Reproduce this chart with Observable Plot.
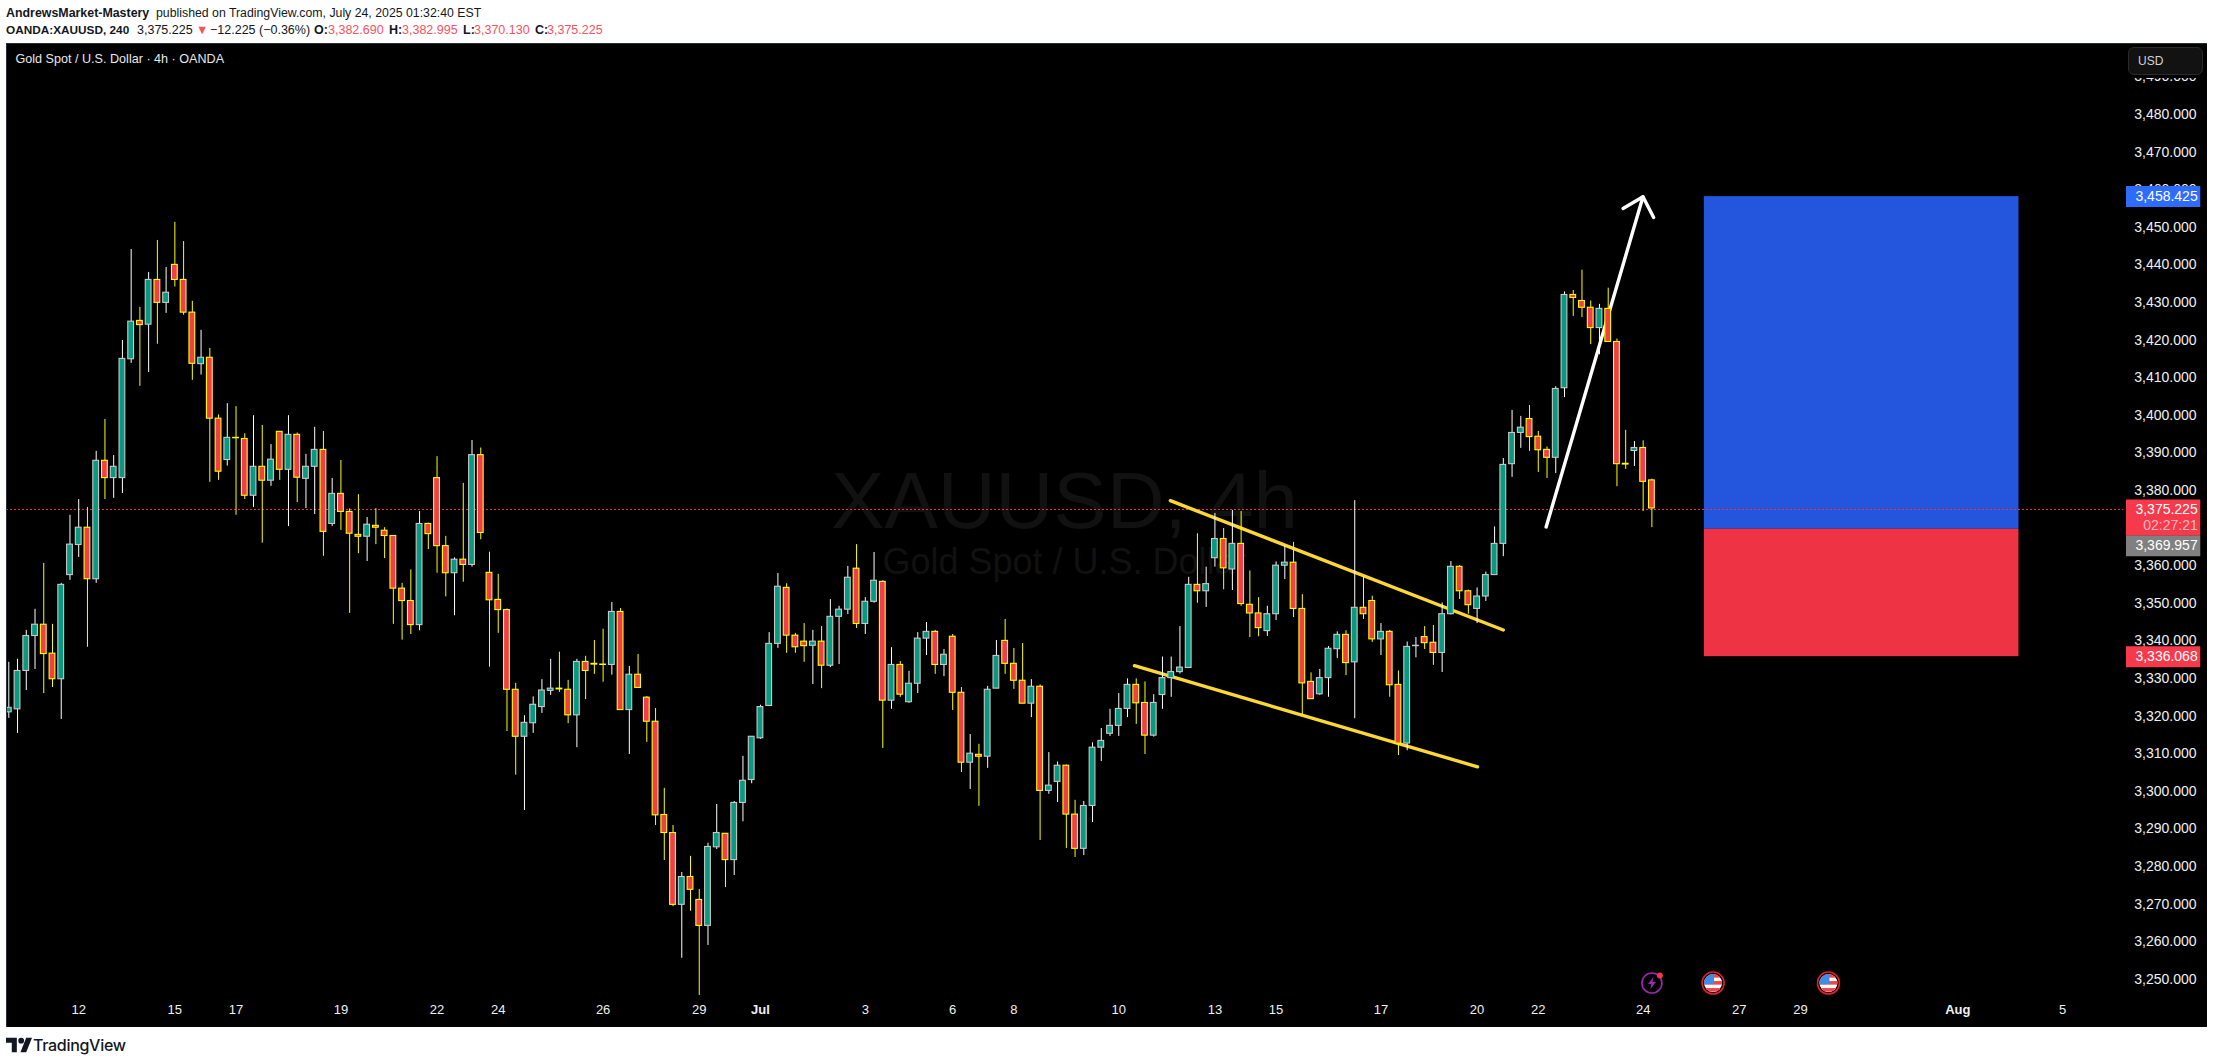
<!DOCTYPE html>
<html><head><meta charset="utf-8">
<script src="https://cdn.jsdelivr.net/npm/d3@7"></script>
<script src="https://cdn.jsdelivr.net/npm/@observablehq/plot@0.6"></script>
<style>
html,body{margin:0;padding:0;background:#fff;width:2213px;height:1064px;overflow:hidden;font-family:"Liberation Sans",sans-serif}
#head{position:relative;height:43px;color:#131722;font-size:12.5px}
#head span{position:absolute;white-space:nowrap;line-height:16px}
#chart{position:relative;margin-left:6px;width:2201px;height:984px}
#usd{position:absolute;left:2122px;top:4px;width:73px;height:26px;background:#121212;border:1px solid #2a2a2a;border-radius:6px;color:#d1d4dc;font-size:12px;line-height:26px;text-indent:9px;box-shadow:0 2px 0 1px #000}
#foot{position:relative;height:37px}
#foot svg{position:absolute;left:6px;top:10px}
#foot span{position:absolute;left:33px;top:8px;font-size:16px;color:#131722;letter-spacing:-.3px;font-family:"Inter","Liberation Sans",sans-serif;font-weight:500}
</style></head><body>
<div id="head">
<span style="left:6px;top:5px;font-weight:700;font-size:12.4px">AndrewsMarket-Mastery</span>
<span style="left:156px;top:5px;font-size:12.3px">published on TradingView.com, July 24, 2025 01:32:40 EST</span>
<span style="left:6px;top:22px;font-weight:700;font-size:11.8px">OANDA:XAUUSD, 240</span>
<span style="left:137px;top:22px">3,375.225</span>
<span style="left:196px;top:22px;color:#f7525f">▼</span>
<span style="left:210px;top:22px">−12.225 (−0.36%)</span>
<span style="left:314px;top:22px;font-weight:700">O:</span><span style="left:328px;top:22px;color:#f7525f">3,382.690</span>
<span style="left:389px;top:22px;font-weight:700">H:</span><span style="left:402px;top:22px;color:#f7525f">3,382.995</span>
<span style="left:463px;top:22px;font-weight:700">L:</span><span style="left:474px;top:22px;color:#f7525f">3,370.130</span>
<span style="left:535px;top:22px;font-weight:700">C:</span><span style="left:547px;top:22px;color:#f7525f">3,375.225</span>
</div>
<div id="chart"><div id="usd">USD</div></div>
<div id="foot">
<svg width="26" height="16" viewBox="0 0 36 20" fill="#131722"><path d="M15 20H8V7H0V0h15v20z"/><circle cx="21" cy="4" r="4"/><path d="M28 0h8l-8 20h-8z"/></svg>
<span>TradingView</span></div>
<script>
const rising = "UUUUDDUUUD UDUUUDUDUD DDUDDUDDUD UDUDUUDUDD DUDDDDDUDD DUDUDDDDDU UUUDDUDDDU DUDDDDDUDD UUDUUUUUUD DDUDUUUDUU DUDUUUDUDD UDUUDDDUDU UDDUUUUUUD DUUUUUDUUD UDDDUUUDDD UUUDUDDUDD UUDDUUDDUU UUUUDDDUUD DDUDDDUDD".replace(/ /g,"");
const highs = [
3334.3,3335.1,3342.8,3348.4,3360.6,3344.4,3355.3,3373.4,3377.6,3375.5,
3390.4,3398.9,3389.3,3419.9,3444.1,3428.7,3438.0,3446.5,3439.3,3451.3,
3446.2,3430.3,3422.6,3417.8,3400.1,3403.1,3402.3,3395.1,3399.9,3397.3,
3392.2,3395.6,3399.9,3395.3,3389.6,3396.8,3395.7,3383.2,3388.0,3375.1,
3378.9,3372.8,3375.2,3370.1,3367.9,3355.3,3358.9,3374.4,3371.3,3389.0,
3367.8,3362.1,3381.9,3393.3,3391.3,3363.6,3357.7,3348.5,3328.7,3320.1,
3325.1,3329.7,3335.1,3337.0,3329.5,3335.1,3335.9,3340.1,3343.1,3350.2,
3348.6,3333.2,3336.4,3325.2,3322.0,3300.8,3290.9,3278.4,3282.7,3273.9,
3286.2,3296.5,3288.7,3297.3,3309.3,3314.5,3322.9,3342.2,3357.9,3355.2,
3342.0,3344.6,3342.8,3343.8,3351.0,3349.2,3359.8,3365.6,3351.5,3363.5,
3356.0,3338.2,3334.5,3331.9,3342.2,3344.9,3342.8,3337.7,3341.7,3327.6,
3315.1,3312.5,3327.9,3340.1,3345.7,3338.0,3339.3,3329.7,3328.3,3310.3,
3307.8,3307.0,3297.6,3297.3,3312.9,3316.7,3321.8,3326.0,3329.9,3329.9,
3329.1,3325.7,3335.7,3335.7,3343.8,3356.9,3368.5,3359.6,3373.9,3369.9,
3374.7,3374.4,3358.6,3351.5,3349.2,3361.0,3365.3,3366.2,3352.3,3331.5,
3332.4,3338.5,3342.4,3342.7,3377.3,3357.1,3351.9,3344.6,3342.8,3332.0,
3339.7,3340.9,3343.8,3344.1,3350.1,3361.1,3360.0,3353.5,3354.1,3358.3,
3370.3,3388.5,3401.3,3399.7,3402.6,3395.7,3391.6,3407.6,3432.8,3433.2,
3438.6,3430.4,3429.5,3433.8,3420.3,3396.0,3393.0,3393.2,3382.995];
const bodyTops = [
3322.2,3332.0,3341.3,3344.3,3344.3,3336.6,3354.9,3365.6,3370.1,3370.1,
3387.9,3387.9,3386.3,3415.0,3424.9,3425.1,3436.0,3436.0,3432.6,3440.0,
3436.0,3427.3,3415.3,3415.3,3399.1,3394.0,3394.0,3393.7,3386.3,3386.3,
3388.2,3395.6,3394.8,3394.8,3386.3,3390.8,3390.8,3379.1,3379.1,3374.3,
3368.2,3370.9,3370.6,3369.3,3367.9,3353.9,3350.6,3371.1,3371.1,3383.3,
3365.2,3361.6,3361.6,3389.4,3389.4,3358.1,3350.9,3348.2,3327.0,3318.2,
3323.0,3326.8,3327.3,3327.3,3327.0,3334.4,3334.4,3333.9,3333.7,3347.7,
3347.7,3331.0,3331.0,3324.9,3318.5,3293.7,3288.9,3277.2,3277.2,3271.1,
3285.2,3288.9,3288.7,3296.9,3302.8,3314.5,3322.4,3339.2,3354.4,3354.1,
3341.4,3339.8,3339.8,3339.8,3346.4,3348.3,3356.8,3359.2,3350.4,3356.0,
3355.7,3333.6,3333.6,3328.6,3340.6,3342.4,3342.4,3336.3,3341.1,3326.2,
3310.0,3309.7,3327.0,3336.0,3340.0,3333.9,3329.4,3327.8,3327.8,3301.5,
3306.8,3306.8,3293.8,3296.1,3311.6,3313.4,3317.4,3321.9,3328.3,3328.3,
3323.5,3323.5,3330.1,3331.7,3332.9,3354.9,3354.9,3355.1,3367.1,3367.1,
3365.8,3365.8,3349.6,3347.3,3347.1,3360.0,3360.8,3360.8,3348.5,3329.1,
3330.1,3337.9,3341.6,3341.6,3348.8,3348.8,3350.6,3342.4,3342.4,3328.3,
3338.4,3338.7,3341.0,3339.5,3347.1,3359.7,3359.7,3353.2,3351.8,3357.5,
3365.8,3386.8,3395.3,3396.7,3399.0,3394.3,3390.8,3407.0,3432.0,3432.0,
3430.4,3428.6,3428.3,3428.3,3419.5,3387.1,3391.3,3391.3,3382.69];
const bodyBottoms = [
3321.0,3321.8,3332.0,3341.3,3336.5,3329.8,3329.8,3357.5,3365.5,3356.4,
3356.4,3383.3,3383.3,3383.3,3414.9,3424.0,3424.1,3429.9,3429.9,3436.0,
3427.3,3413.7,3413.6,3399.1,3385.0,3388.1,3393.9,3378.6,3378.6,3382.6,
3382.6,3385.5,3385.5,3383.4,3383.1,3386.3,3369.0,3371.1,3374.3,3368.5,
3367.7,3367.7,3370.1,3367.9,3353.9,3350.6,3344.2,3344.2,3368.4,3365.2,
3358.0,3358.0,3360.2,3360.2,3368.7,3350.8,3348.2,3327.0,3314.5,3314.5,
3318.1,3322.4,3326.7,3327.1,3320.2,3320.2,3332.0,3333.7,3333.6,3333.6,
3321.6,3321.6,3327.5,3318.5,3293.6,3288.9,3269.8,3269.8,3273.8,3264.2,
3264.2,3285.1,3281.7,3281.7,3296.9,3303.0,3314.1,3322.7,3339.2,3341.4,
3338.3,3338.6,3338.7,3333.4,3333.4,3346.4,3348.3,3344.5,3344.5,3350.4,
3324.1,3324.1,3325.7,3323.7,3328.6,3340.6,3333.6,3333.6,3326.2,3307.6,
3307.6,3309.2,3309.2,3327.3,3333.9,3329.4,3323.3,3323.3,3300.1,3300.1,
3302.5,3293.8,3284.7,3284.7,3296.1,3311.6,3315.3,3317.4,3321.9,3323.4,
3314.8,3314.8,3325.6,3330.1,3331.7,3332.8,3353.2,3353.2,3362.0,3359.3,
3359.0,3349.8,3347.3,3343.4,3342.6,3347.1,3360.0,3348.5,3328.7,3324.5,
3325.8,3330.1,3337.8,3334.1,3334.3,3347.1,3340.4,3340.4,3328.2,3312.7,
3312.7,3338.6,3339.4,3336.8,3336.8,3347.1,3353.2,3349.5,3348.5,3351.8,
3357.5,3365.8,3387.0,3395.3,3394.2,3390.7,3388.7,3388.7,3407.2,3431.2,
3428.6,3423.2,3423.2,3419.5,3387.0,3386.9,3390.5,3382.3,3375.225];
const lows = [
3319.4,3315.4,3326.8,3332.4,3326.0,3327.6,3319.1,3356.1,3362.2,3338.3,
3355.3,3377.6,3377.9,3379.2,3413.8,3407.7,3411.4,3418.9,3427.1,3434.1,
3426.6,3409.3,3410.7,3382.2,3382.7,3386.5,3373.4,3377.6,3375.5,3366.0,
3381.1,3382.7,3370.4,3376.8,3375.2,3373.6,3362.5,3370.4,3369.4,3347.3,
3363.2,3361.1,3365.6,3361.9,3344.4,3340.2,3341.7,3342.7,3364.3,3358.0,
3351.7,3346.7,3355.6,3359.6,3366.9,3333.0,3342.0,3315.9,3304.3,3294.9,
3315.4,3320.7,3325.5,3326.3,3318.0,3311.6,3324.4,3331.1,3329.0,3330.9,
3321.6,3309.8,3327.5,3313.0,3290.9,3281.6,3269.3,3255.6,3268.1,3245.7,
3259.0,3284.5,3274.4,3277.6,3291.9,3302.0,3313.8,3322.7,3338.0,3336.7,
3336.7,3334.3,3328.4,3327.3,3332.9,3333.7,3347.0,3343.3,3341.7,3350.0,
3311.4,3321.8,3325.0,3323.4,3326.0,3336.1,3331.1,3330.5,3321.5,3305.0,
3300.5,3296.0,3306.1,3327.3,3331.1,3327.1,3323.3,3319.6,3286.9,3299.2,
3297.0,3284.8,3282.4,3282.9,3291.7,3307.9,3314.6,3314.6,3319.6,3317.8,
3309.8,3314.4,3321.8,3325.0,3331.2,3332.8,3350.0,3348.9,3359.6,3353.6,
3353.4,3349.2,3340.9,3341.1,3341.2,3345.4,3356.3,3346.2,3320.4,3324.5,
3325.5,3325.0,3335.3,3330.8,3319.3,3345.7,3339.6,3336.1,3325.0,3309.5,
3310.8,3335.5,3337.7,3333.5,3331.6,3346.9,3351.0,3347.1,3344.6,3350.5,
3357.5,3362.4,3383.5,3391.2,3390.4,3384.8,3383.2,3384.5,3404.7,3426.3,
3426.0,3418.8,3416.1,3419.5,3381.0,3385.6,3386.4,3374.4,3370.13];

const xTickBars   = [9,20,27,39,50,57,69,80,99,109,116,128,139,146,158,169,176,188,199,206,236];
const xTickLabels = ["12","15","17","19","22","24","26","29","3","6","8","10","13","15","17","20","22","24","27","29","5"];
const monthBars   = [87,224];
const monthLabels = ["Jul","Aug"];
const yTicks = d3.range(3250,3500,10);

const upperChannel = [{bar:133.9,price:3377.3},{bar:172.0,price:3342.9}];
const lowerChannel = [{bar:129.8,price:3333.4},{bar:169.05,price:3306.5}];
const arrowShaft   = [{bar:176.9,price:3370.3},{bar:187.98,price:3458.1}];
const arrowHead    = [{bar:185.7,price:3455.0},{bar:187.98,price:3458.1},{bar:189.2,price:3452.6}];
const targetZone = [{from:3369.957,to:3458.425,fill:"#2356dd"},{from:3336.068,to:3369.957,fill:"#ee3344"}];
const zoneBars = [195,231];
const lastPrice = 3375.225;
const tagBars = [243.3,251.8];
const textBar = 251.45;
const blueTag = 3458.425, redTag = 3336.068, greyTag = 3369.957;
const events = [{bar:189.0,kind:"bolt"},{bar:196.0,kind:"flag"},{bar:209.2,kind:"flag"}];
const eventPrice = 3249;

const flag = "data:image/svg+xml,"+encodeURIComponent(`<svg xmlns='http://www.w3.org/2000/svg' viewBox='0 0 24 24'><defs><clipPath id='c'><circle cx='12' cy='12' r='9'/></clipPath></defs><circle cx='12' cy='12' r='11' fill='#000' stroke='#e0202c' stroke-width='1.6'/><g clip-path='url(#c)'><rect width='24' height='24' fill='#fff'/><rect y='3' width='24' height='3.6' fill='#f0474f'/><rect y='10' width='24' height='3.6' fill='#f0474f'/><rect y='17' width='24' height='3.6' fill='#f0474f'/><rect x='2' y='2' width='11' height='11' fill='#3a8ee6'/></g></svg>`);
const bolt = "data:image/svg+xml,"+encodeURIComponent(`<svg xmlns='http://www.w3.org/2000/svg' viewBox='0 0 24 24'><circle cx='12' cy='12' r='10' fill='none' stroke='#9c27b0' stroke-width='1.6'/><path d='M13.5 6 8 13h3.4l-1 5.2L16 11h-3.4z' fill='#9c27b0'/><circle cx='20' cy='4.5' r='3' fill='#f23645'/></svg>`);

const candles = highs.map((h,i)=>({bar:i+1,high:h,low:lows[i],top:bodyTops[i],bottom:bodyBottoms[i],up:rising[i]==="U"}));
const inkFont = '"Liberation Sans",sans-serif';
const halfBody = 0.33;
const money = d3.format(",.3f");
const tag = (price,fill,off,h=21)=>Plot.ruleY([price],{dy:off,x1:()=>tagBars[0],x2:()=>tagBars[1],stroke:fill,strokeWidth:h});
const tagText = (price,off,label=money(price),fill="#fff")=>Plot.text([label],{y:()=>price,x:()=>textBar,dy:off,textAnchor:"end",fontSize:14,fill});

const chart = Plot.plot({
  width:2201,height:984,marginTop:0,marginBottom:0,marginLeft:0,marginRight:0,
  style:{background:"#000",fontFamily:inkFont,overflow:"hidden"},
  x:{type:"linear",domain:[0.737,252.57],range:[0,2201],axis:null},
  y:{type:"linear",domain:[3237.18,3498.88],range:[984,0],axis:null},
  marks:[
    Plot.text(["XAUUSD, 4h"],{frameAnchor:"top-left",dx:1058,dy:484,textAnchor:"middle",lineAnchor:"bottom",fontSize:80,fill:"#111111"}),
    Plot.text(["Gold Spot / U.S. Dollar"],{frameAnchor:"top-left",dx:1058,dy:530,textAnchor:"middle",lineAnchor:"bottom",fontSize:36,fill:"#111111"}),
    Plot.rect(targetZone,{x1:()=>zoneBars[0],x2:()=>zoneBars[1],y1:"from",y2:"to",fill:"fill",dy:1}),
    Plot.ruleY([lastPrice],{dy:1,x1:()=>0.737,x2:()=>243,stroke:"#f23645",strokeWidth:1,strokeDasharray:"2 2"}),
    Plot.line(upperChannel,{x:"bar",y:"price",stroke:"#fdd835",strokeWidth:3.4}),
    Plot.line(lowerChannel,{x:"bar",y:"price",stroke:"#fdd835",strokeWidth:3.4}),
    Plot.line(arrowShaft,{x:"bar",y:"price",stroke:"#fff",strokeWidth:3.4}),
    Plot.line(arrowHead,{x:"bar",y:"price",stroke:"#fff",strokeWidth:3.4}),
    Plot.ruleX(candles,{x:"bar",y1:"low",y2:"high",stroke:d=>d.up?"#ffffff":"#ffff00",strokeWidth:1}),
    Plot.rect(candles,{x1:d=>d.bar-halfBody,x2:d=>d.bar+halfBody,y1:"bottom",y2:"top",fill:d=>d.up?"#089981":"#f23d4c",stroke:d=>d.up?"#c8c8c8":"#ffff00",strokeWidth:1.1}),
    Plot.axisY(yTicks,{anchor:"right",tickSize:0,tickPadding:0,textAnchor:"end",dx:-11,fontSize:14,fill:"#f0f0f0",tickFormat:money,label:null}),
    Plot.axisX(xTickBars,{anchor:"bottom",tickSize:0,tickPadding:0,lineAnchor:"middle",dy:-18,fontSize:13,fill:"#f0f0f0",tickFormat:d=>xTickLabels[xTickBars.indexOf(d)],label:null}),
    Plot.axisX(monthBars,{anchor:"bottom",tickSize:0,tickPadding:0,lineAnchor:"middle",dy:-18,fontSize:13,fontWeight:700,fill:"#f0f0f0",tickFormat:d=>monthLabels[monthBars.indexOf(d)],label:null}),
    tag(blueTag,"#2e6bff",1),
    tag(redTag,"#f7394c",1),
    tag(greyTag,"#808080",17.5),
    tag(lastPrice,"#f7394c",9,36),
    tagText(blueTag,1),
    tagText(redTag,1),
    tagText(greyTag,17.5),
    tagText(lastPrice,1),
    tagText(lastPrice,17,"02:27:21","#fbb8bf"),
    Plot.image(events,{x:"bar",y:()=>eventPrice,src:d=>d.kind==="flag"?flag:bolt,width:24,height:24}),
    Plot.text(["Gold Spot / U.S. Dollar · 4h · OANDA"],{frameAnchor:"top-left",dx:9,dy:11,textAnchor:"start",lineAnchor:"top",fontSize:12.6,fill:"#e8e8e8"}),
    Plot.frame({stroke:"#2a2e39"})
  ]
});
document.getElementById("chart").prepend(chart);
</script></body></html>
